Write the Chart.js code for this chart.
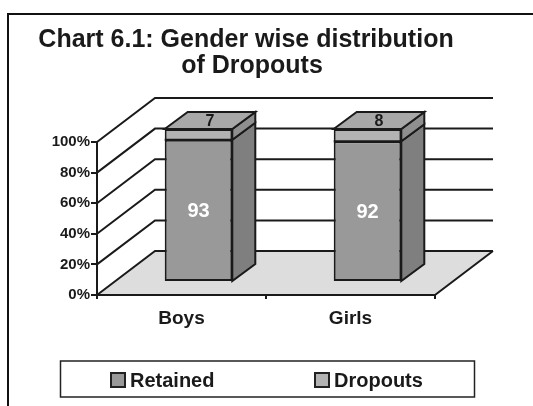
<!DOCTYPE html>
<html>
<head>
<meta charset="utf-8">
<script src="https://cdn.jsdelivr.net/npm/chart.js@4.4.0/dist/chart.umd.min.js"></script>
<style>
  body { margin: 0; background: #fff; }
  #wrap { width: 533px; height: 406px; }
</style>
</head>
<body>
<div id="wrap"><canvas id="chart"></canvas></div>
<script>
const categories = ["Boys", "Girls"];
const retained = [93, 92];
const dropouts = [7, 8];
const titleLines = ["Chart 6.1: Gender wise distribution", "of Dropouts"];

const FONT = '"Liberation Sans", Arial, sans-serif';
const INK = "#1a1a1a";

// fake 3D, Excel style: bars sit a bit behind the front plane
const BAR_SHIFT = { x: 17, y: -13 };
const BAR_DEPTH = { x: 23, y: -17 };
const WALL_DEPTH = { x: 58, y: -44 };

const frontColors = ["#999999", "#b3b3b3"];
const sideColors = ["#7f7f7f", "#8f8f8f"];
const topColor = "#a8a8a8";

const threeD = {
  id: "threeD",
  beforeDraw(chart) {
    const { ctx, chartArea: a } = chart;
    const y = chart.scales.y;
    const y0 = y.getPixelForValue(0);
    ctx.save();
    // floor
    ctx.fillStyle = "#dddddd";
    ctx.beginPath();
    ctx.moveTo(a.left, y0);
    ctx.lineTo(a.right, y0);
    ctx.lineTo(a.right + WALL_DEPTH.x, y0 + WALL_DEPTH.y);
    ctx.lineTo(a.left + WALL_DEPTH.x, y0 + WALL_DEPTH.y);
    ctx.closePath();
    ctx.fill();

    ctx.strokeStyle = INK;
    ctx.lineWidth = 2;
    ctx.beginPath();
    ctx.moveTo(a.right, y0);
    ctx.lineTo(a.right + WALL_DEPTH.x, y0 + WALL_DEPTH.y);
    // side wall + back wall gridlines
    y.ticks.forEach((t) => {
      const py = y.getPixelForValue(t.value);
      ctx.moveTo(a.left, py);
      ctx.lineTo(a.left + WALL_DEPTH.x, py + WALL_DEPTH.y);
      ctx.lineTo(a.right + WALL_DEPTH.x, py + WALL_DEPTH.y);
    });
    ctx.stroke();
    ctx.restore();
  },
  beforeDatasetsDraw(chart) {
    chart.ctx.save();
    chart.ctx.translate(BAR_SHIFT.x, BAR_SHIFT.y);
  },
  afterDatasetsDraw(chart) {
    const ctx = chart.ctx;
    const last = chart.data.datasets.length - 1;
    ctx.lineWidth = 2;
    ctx.strokeStyle = INK;
    ctx.lineJoin = "miter";
    chart.data.datasets.forEach((ds, i) => {
      chart.getDatasetMeta(i).data.forEach((bar) => {
        const left = bar.x - bar.width / 2;
        const right = bar.x + bar.width / 2;
        const top = Math.min(bar.y, bar.base);
        const bottom = Math.max(bar.y, bar.base);
        // right side face
        ctx.fillStyle = sideColors[i];
        ctx.beginPath();
        ctx.moveTo(right, top);
        ctx.lineTo(right + BAR_DEPTH.x, top + BAR_DEPTH.y);
        ctx.lineTo(right + BAR_DEPTH.x, bottom + BAR_DEPTH.y);
        ctx.lineTo(right, bottom);
        ctx.closePath();
        ctx.fill();
        ctx.stroke();
        // edge between stacked segments on the front face
        ctx.beginPath();
        ctx.moveTo(left, top);
        ctx.lineTo(right, top);
        ctx.stroke();
        if (i === last) {
          ctx.fillStyle = topColor;
          ctx.beginPath();
          ctx.moveTo(left, top);
          ctx.lineTo(left + BAR_DEPTH.x, top + BAR_DEPTH.y);
          ctx.lineTo(right + BAR_DEPTH.x, top + BAR_DEPTH.y);
          ctx.lineTo(right, top);
          ctx.closePath();
          ctx.fill();
          ctx.stroke();
        }
      });
    });

    // value labels
    ctx.textAlign = "center";
    ctx.textBaseline = "middle";
    chart.getDatasetMeta(0).data.forEach((bar, j) => {
      ctx.fillStyle = "#ffffff";
      ctx.font = "bold 20px " + FONT;
      ctx.fillText(retained[j], bar.x, (bar.y + bar.base) / 2 + 1);
    });
    chart.getDatasetMeta(1).data.forEach((bar, j) => {
      ctx.fillStyle = INK;
      ctx.font = "bold 16px " + FONT;
      ctx.fillText(dropouts[j], bar.x + BAR_DEPTH.x / 2, bar.y + BAR_DEPTH.y / 2 + 1);
    });
    ctx.restore();
  },
  afterDraw(chart) {
    const ctx = chart.ctx;
    ctx.save();
    // outer frame (only top and left visible)
    ctx.strokeStyle = "#111";
    ctx.lineWidth = 2;
    ctx.beginPath();
    ctx.moveTo(8, 406);
    ctx.lineTo(8, 14);
    ctx.lineTo(533, 14);
    ctx.stroke();

    // title
    ctx.fillStyle = INK;
    ctx.font = "bold 25px " + FONT;
    ctx.textAlign = "center";
    ctx.textBaseline = "alphabetic";
    ctx.fillText(titleLines[0], 246, 47);
    ctx.fillText(titleLines[1], 252, 73);

    // legend
    ctx.lineWidth = 1.5;
    ctx.strokeStyle = "#222";
    ctx.strokeRect(60.5, 361, 414, 36);
    const itemX = [111, 315];
    ctx.font = "bold 20px " + FONT;
    ctx.textAlign = "left";
    chart.data.datasets.forEach((ds, i) => {
      ctx.fillStyle = ds.backgroundColor;
      ctx.fillRect(itemX[i], 373, 14, 14);
      ctx.lineWidth = 2;
      ctx.strokeStyle = "#222";
      ctx.strokeRect(itemX[i], 373, 14, 14);
      ctx.fillStyle = INK;
      ctx.fillText(ds.label, itemX[i] + 19, 387);
    });
    ctx.restore();
  },
};

new Chart(document.getElementById("chart"), {
  type: "bar",
  data: {
    labels: categories,
    datasets: [
      {
        label: "Retained",
        data: retained,
        backgroundColor: frontColors[0],
        borderColor: INK,
        borderWidth: 2,
        borderSkipped: false,
        barPercentage: 0.8,
        categoryPercentage: 0.5,
        clip: false,
      },
      {
        label: "Dropouts",
        data: dropouts,
        backgroundColor: frontColors[1],
        borderColor: INK,
        borderWidth: 2,
        borderSkipped: "start",
        barPercentage: 0.8,
        categoryPercentage: 0.5,
        clip: false,
      },
    ],
  },
  options: {
    responsive: true,
    maintainAspectRatio: false,
    animation: false,
    events: [],
    layout: { padding: { top: 142, left: 0, right: 98, bottom: 71 } },
    plugins: {
      legend: { display: false },
      title: { display: false },
      tooltip: { enabled: false },
    },
    scales: {
      x: {
        stacked: true,
        afterFit: (s) => { s.height = 40; },
        grid: { drawOnChartArea: false, drawTicks: true, tickLength: 4, color: INK, lineWidth: 2 },
        border: { display: true, color: INK, width: 2 },
        ticks: { color: INK, padding: 8, font: { family: FONT, size: 19, weight: "bold" } },
      },
      y: {
        stacked: true,
        min: 0,
        max: 100,
        afterFit: (s) => { s.width = 97; },
        grid: { drawOnChartArea: false, drawTicks: true, tickLength: 6, color: INK, lineWidth: 2 },
        border: { display: true, color: INK, width: 2 },
        ticks: {
          stepSize: 20,
          color: INK,
          padding: 1,
          font: { family: FONT, size: 15, weight: "bold" },
          callback: (v) => v + "%",
        },
      },
    },
  },
  plugins: [threeD],
});
</script>
</body>
</html>
